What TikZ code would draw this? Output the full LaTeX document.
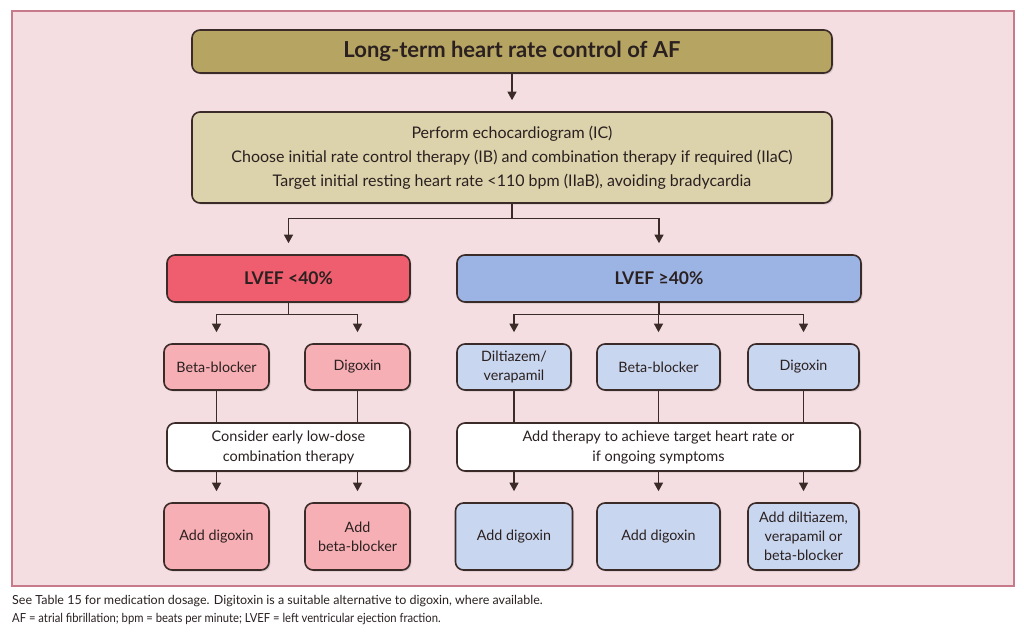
\documentclass[tikz,border=0pt]{standalone}
\usepackage{fontspec}
\setmainfont{Lato}
\usetikzlibrary{arrows.meta,shadows}
\definecolor{framefill}{HTML}{F5DEE1}
\definecolor{framedraw}{HTML}{C77A8A}
\definecolor{edgec}{HTML}{3A2A28}
\definecolor{topfill}{HTML}{B5A462}
\definecolor{echofill}{HTML}{DCD3AC}
\definecolor{redfill}{HTML}{EF5E6E}
\definecolor{pinkfill}{HTML}{F6AFB4}
\definecolor{bluefill}{HTML}{9CB4E4}
\definecolor{lbluefill}{HTML}{C9D6EF}
\definecolor{txt}{HTML}{2A2020}
\tikzset{
  box/.style={draw=edgec, line width=1.6pt, rounded corners=8pt, align=center, inner sep=2pt, text=txt,
    drop shadow={shadow xshift=1.5pt, shadow yshift=-1.5pt, opacity=0.25}},
  conn/.style={draw=edgec, line width=1.2pt},
  arr/.style={conn, -{Triangle[width=9pt,length=8.5pt]}, shorten >=11pt},
  smallbox/.style={box, font=\fontsize{14.3}{19}\selectfont},
}
\begin{document}
\begin{tikzpicture}[x=1pt,y=-1pt]
\useasboundingbox (0,0) rectangle (1024,637);
\fill[white] (0,0) rectangle (1024,637);
\draw[framedraw, fill=framefill, line width=1.4pt] (12,11) rectangle (1014,586);

% top
\node[box, fill=topfill, minimum width=640pt, minimum height=43pt, font=\fontsize{22}{24}\selectfont\bfseries] (top) at (512,51.5) {Long-term heart rate control of AF};
\node[box, fill=echofill, minimum width=640pt, minimum height=91pt, font=\fontsize{16}{24}\selectfont] (echo) at (512,157.5)
  {Perform echocardiogram (IC)\\Choose initial rate control therapy (IB) and combination therapy if required (IIaC)\\Target initial resting heart rate <110 bpm (IIaB), avoiding bradycardia};

% LVEF
\node[box, fill=redfill, minimum width=243pt, minimum height=47pt, font=\fontsize{17.5}{20}\selectfont\bfseries] (lo) at (288.5,278.5) {LVEF <40\%};
\node[box, fill=bluefill, minimum width=404pt, minimum height=47pt, font=\fontsize{17.5}{20}\selectfont\bfseries] (hi) at (659,278.5) {LVEF ≥40\%};

% small boxes row
\node[smallbox, fill=pinkfill, minimum width=105pt, minimum height=46pt] (lbb) at (216.5,367) {Beta-blocker};
\node[smallbox, fill=pinkfill, minimum width=105pt, minimum height=46pt] (ldg) at (357.5,367) {Digoxin};
\node[smallbox, fill=lbluefill, minimum width=114pt, minimum height=46pt] (rdv) at (514,367) {Diltiazem/\\verapamil};
\node[smallbox, fill=lbluefill, minimum width=123pt, minimum height=46pt] (rbb) at (658.5,367) {Beta-blocker};
\node[smallbox, fill=lbluefill, minimum width=111pt, minimum height=46pt] (rdg) at (803.5,367) {Digoxin};

% white boxes
\node[box, fill=white, minimum width=243pt, minimum height=48pt, font=\fontsize{14.5}{20}\selectfont] (lcons) at (288.5,447) {Consider early low-dose\\combination therapy};
\node[box, fill=white, minimum width=403pt, minimum height=48pt, font=\fontsize{14.5}{20}\selectfont] (rcons) at (658.5,447) {Add therapy to achieve target heart rate or\\if ongoing symptoms};

% bottom boxes
\node[smallbox, fill=pinkfill, minimum width=105pt, minimum height=67pt] (lad1) at (216.5,536.5) {Add digoxin};
\node[smallbox, fill=pinkfill, minimum width=105pt, minimum height=67pt] (lad2) at (357.5,536.5) {Add\\beta-blocker};
\node[smallbox, fill=lbluefill, minimum width=117pt, minimum height=67pt] (rad1) at (514,536.5) {Add digoxin};
\node[smallbox, fill=lbluefill, minimum width=123pt, minimum height=67pt] (rad2) at (658.5,536.5) {Add digoxin};
\node[smallbox, fill=lbluefill, minimum width=111pt, minimum height=67pt] (rad3) at (803.5,536.5) {Add diltiazem,\\verapamil or\\beta-blocker};

% connectors
\draw[arr] (top) -- (echo);
\draw[conn] (echo.south) -- ++(0,15) coordinate (s1);
\draw[arr] (s1) -| (lo.north);
\draw[arr] (s1) -| (hi.north);

\draw[conn] (lo.south) -- ++(0,12) coordinate (s2);
\draw[arr] (s2) -| (lbb.north);
\draw[arr] (s2) -| (ldg.north);

\draw[conn] (hi.south) -- ++(0,12) coordinate (s3);
\draw[arr] (s3) -| (rdv.north);
\draw[arr] (s3) -| (rbb.north);
\draw[arr] (s3) -| (rdg.north);

\draw[conn] (lbb) -- (lbb |- lcons.north);
\draw[conn] (ldg) -- (ldg |- lcons.north);
\draw[conn] (rdv) -- (rdv |- rcons.north);
\draw[conn] (rbb) -- (rbb |- rcons.north);
\draw[conn] (rdg) -- (rdg |- rcons.north);

\draw[arr] (lad1 |- lcons.south) -- (lad1);
\draw[arr] (lad2 |- lcons.south) -- (lad2);
\draw[arr] (rad1 |- rcons.south) -- (rad1);
\draw[arr] (rad2 |- rcons.south) -- (rad2);
\draw[arr] (rad3 |- rcons.south) -- (rad3);

% footer
\node[anchor=west, inner sep=0pt, text=txt, font=\fontsize{12.5}{17.5}\selectfont, align=left] (foot) at (12,610)
  {See Table 15 for medication dosage. Digitoxin is a suitable alternative to digoxin, where available.\\\scalebox{0.9}[1]{AF = atrial fibrillation; bpm = beats per minute; LVEF = left ventricular ejection fraction.}};
\end{tikzpicture}
\end{document}
